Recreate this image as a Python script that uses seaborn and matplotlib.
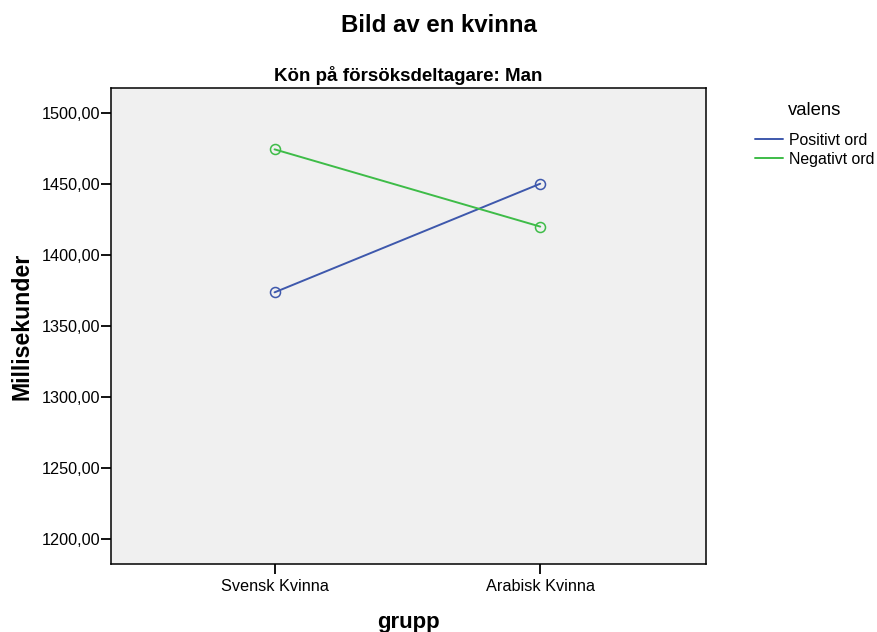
import matplotlib
matplotlib.use("Agg")
import matplotlib.pyplot as plt
from matplotlib.lines import Line2D
import seaborn as sns
import pandas as pd

groups = ["Svensk Kvinna", "Arabisk Kvinna"]
valens = ["Positivt ord", "Negativt ord"]
positivt = [1373.5, 1450.0]
negativt = [1474.2, 1419.8]
yticks = [1200, 1250, 1300, 1350, 1400, 1450, 1500]
colors = ["#3e58ac", "#3ebc48"]

df = pd.DataFrame({
    "grupp": groups * 2,
    "valens": [valens[0]] * 2 + [valens[1]] * 2,
    "ms": positivt + negativt,
})

sns.set_theme(style="white")
plt.rcParams["font.family"] = ["Liberation Sans", "DejaVu Sans"]
plt.rcParams["text.color"] = "black"
plt.rcParams["axes.labelcolor"] = "black"

fig = plt.figure(figsize=(8.77, 6.32), dpi=100)
ax = fig.add_axes([0.1262, 0.1076, 0.8050 - 0.1262, 0.8603 - 0.1076])
ax.set_facecolor("#f0f0f0")

sns.pointplot(data=df, x="grupp", y="ms", hue="valens", order=groups,
              hue_order=valens, palette=colors, markers="o", errorbar=None,
              linewidth=1.4, markersize=7.2, ax=ax, legend=False)
for ln in ax.lines:
    ln.set_markerfacecolor("none")
    ln.set_markeredgewidth(1.1)
for c in ax.collections:
    c.set_facecolor("none")

ax.set_xlim(-0.617, 1.624)
ax.set_ylim(1182.2, 1517.2)
ax.set_yticks(yticks)
ax.set_yticklabels([f"{v:.2f}".replace(".", ",") for v in yticks])
for s in ax.spines.values():
    s.set_visible(True)
    s.set_color("black")
    s.set_linewidth(1.1)
ax.tick_params(axis="both", which="both", direction="out", length=7, width=1.3,
               color="black", labelsize=11.7, labelcolor="black",
               left=True, bottom=True, top=False, right=False)
ax.tick_params(axis="y", pad=0.5)
ax.tick_params(axis="x", pad=3.6)
ax.set_xlabel("grupp", fontsize=16, fontweight="bold", labelpad=13)
ax.set_ylabel("Millisekunder", fontsize=16.7, fontweight="bold", labelpad=5.5)
ax.set_title("Kön på försöksdeltagare: Man", fontsize=13.5, fontweight="bold", pad=5.5)
fig.text(0.5, 0.960, "Bild av en kvinna", ha="center", va="center",
         fontsize=17.3, fontweight="bold")

handles = [Line2D([0], [0], color=c, lw=1.4) for c in colors]
leg = fig.legend(handles, valens, loc="upper left",
                 bbox_to_anchor=(0.861, 0.790), frameon=False, fontsize=11.4,
                 handlelength=1.77, handletextpad=0.38,
                 labelspacing=0.25, borderaxespad=0, borderpad=0)
fig.text(788 / 877, 1 - 110.7 / 632, "valens", ha="left", va="center",
         fontsize=13.3)

fig.savefig("out.png", dpi=100)
